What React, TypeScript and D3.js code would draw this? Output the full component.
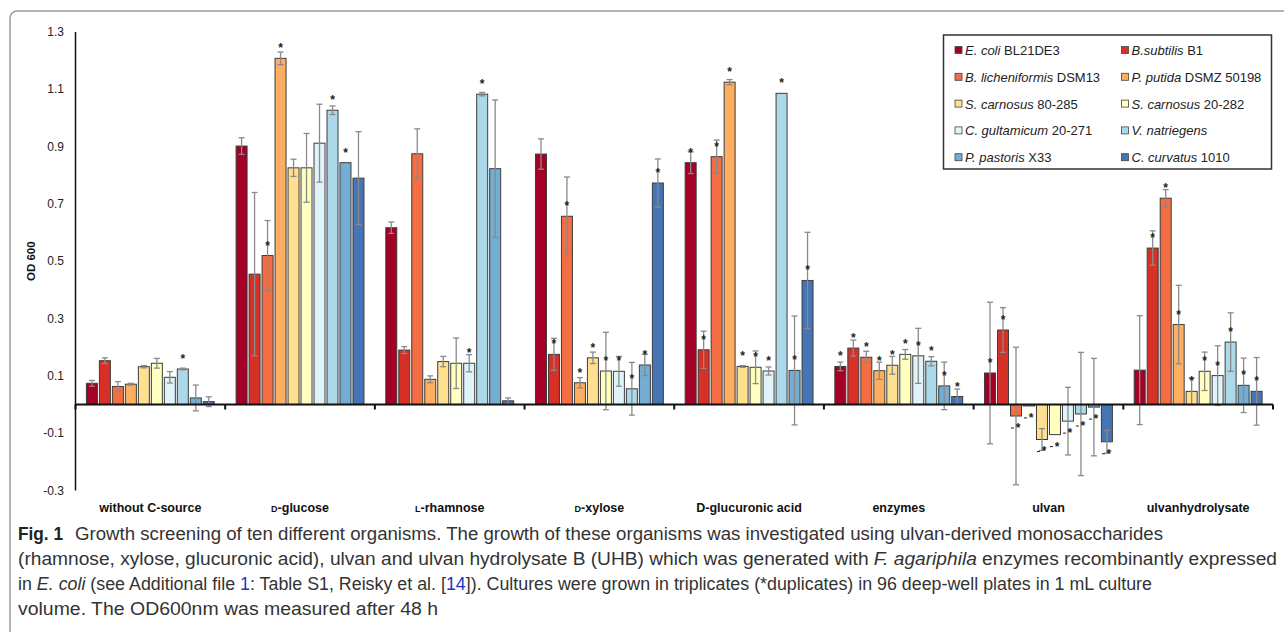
import React from "react";
import * as d3 from "d3";

const categories = ["without C-source", "D-glucose", "L-rhamnose", "D-xylose", "D-glucuronic acid", "enzymes", "ulvan", "ulvanhydrolysate"];
const smallCapCategory = [false, true, true, true, false, false, false, false];

const seriesItalic = ["E. coli", "B.subtilis", "B. licheniformis", "P. putida", "S. carnosus", "S. carnosus", "C. gultamicum", "V. natriegens", "P. pastoris", "C. curvatus"];
const seriesStrain = ["BL21DE3", "B1", "DSM13", "DSMZ 50198", "80-285", "20-282", "20-271", "", "X33", "1010"];
const seriesColors = ["#a50026", "#d73027", "#f46d43", "#fdae61", "#fee090", "#ffffbf", "#e0f3f8", "#abd9e9", "#74add1", "#4575b4"];

// mean OD600 per organism across the 8 carbon sources
const eColi = [0.074, 0.902, 0.617, 0.874, 0.844, 0.133, 0.11, 0.12];
const bSubtilis = [0.153, 0.455, 0.19, 0.175, 0.191, 0.197, 0.26, 0.546];
const bLicheniformis = [0.063, 0.52, 0.875, 0.657, 0.865, 0.165, -0.04, 0.72];
const pPutida = [0.071, 1.208, 0.088, 0.076, 1.125, 0.118, -0.005, 0.279];
const sCarnosus80 = [0.132, 0.826, 0.15, 0.163, 0.133, 0.137, -0.122, 0.046];
const sCarnosus20 = [0.144, 0.826, 0.144, 0.117, 0.13, 0.175, -0.105, 0.116];
const cGlutamicum = [0.095, 0.912, 0.144, 0.116, 0.117, 0.17, -0.058, 0.101];
const vNatriegens = [0.124, 1.027, 1.083, 0.055, 1.086, 0.151, -0.033, 0.218];
const pPastoris = [0.023, 0.844, 0.823, 0.138, 0.119, 0.065, -0.009, 0.067];
const cCurvatus = [0.01, 0.79, 0.013, 0.773, 0.433, 0.028, -0.13, 0.046];

// standard deviations
const eColiErr = [0.01, 0.029, 0.02, 0.053, 0.038, 0.015, 0.247, 0.19];
const bSubtilisErr = [0.01, 0.285, 0.012, 0.056, 0.065, 0.028, 0.078, 0.06];
const bLicheniformisErr = [0.017, 0.122, 0.087, 0.137, 0.058, 0.021, 0.24, 0.03];
const pPutidaErr = [0.003, 0.022, 0.012, 0.018, 0.009, 0.03, 0, 0.137];
const sCarnosus80Err = [0.004, 0.03, 0.018, 0.02, 0.003, 0.031, 0.038, 0.046];
const sCarnosus20Err = [0.017, 0.12, 0.088, 0.135, 0.057, 0.017, 0, 0.067];
const cGlutamicumErr = [0.02, 0.136, 0.03, 0.052, 0.014, 0.096, 0.118, 0.104];
const vNatriegensErr = [0.003, 0.015, 0.006, 0.092, 0, 0.016, 0.215, 0.102];
const pPastorisErr = [0.045, 0, 0.24, 0.037, 0.19, 0.083, 0.17, 0.095];
const cCurvatusErr = [0.017, 0.162, 0.01, 0.084, 0.168, 0.026, 0.04, 0.118];

// duplicates marker (*)
const eColiStar = [0, 0, 0, 0, 1, 1, 1, 0];
const bSubtilisStar = [0, 0, 0, 1, 1, 1, 1, 1];
const bLicheniformisStar = [0, 1, 0, 1, 1, 1, 1, 1];
const pPutidaStar = [0, 1, 0, 1, 1, 1, 1, 1];
const sCarnosus80Star = [0, 0, 0, 1, 1, 1, 1, 1];
const sCarnosus20Star = [0, 0, 0, 1, 1, 1, 1, 1];
const cGlutamicumStar = [0, 0, 1, 1, 1, 1, 1, 1];
const vNatriegensStar = [1, 1, 1, 1, 1, 1, 1, 1];
const pPastorisStar = [0, 1, 0, 1, 1, 1, 1, 1];
const cCurvatusStar = [0, 0, 0, 1, 1, 1, 1, 1];

const yTicks = [-0.3, -0.1, 0.1, 0.3, 0.5, 0.7, 0.9, 1.1, 1.3];

const means = [eColi, bSubtilis, bLicheniformis, pPutida, sCarnosus80, sCarnosus20, cGlutamicum, vNatriegens, pPastoris, cCurvatus];
const errors = [eColiErr, bSubtilisErr, bLicheniformisErr, pPutidaErr, sCarnosus80Err, sCarnosus20Err, cGlutamicumErr, vNatriegensErr, pPastorisErr, cCurvatusErr];
const stars = [eColiStar, bSubtilisStar, bLicheniformisStar, pPutidaStar, sCarnosus80Star, sCarnosus20Star, cGlutamicumStar, vNatriegensStar, pPastorisStar, cCurvatusStar];

const FONT = "'Liberation Sans', Arial, Helvetica, sans-serif";

export default function App() {
  const W = 1284, H = 632;
  const x0 = d3.scaleBand<string>().domain(categories).range([75.5, 1273]).paddingInner(0).paddingOuter(0);
  const x1 = d3.scaleBand<number>().domain(d3.range(10)).range([0, x0.bandwidth()]).paddingInner(0.154).paddingOuter(0.84);
  const y = d3.scaleLinear().domain([-0.3, 1.3]).range([490.5, 32]);
  const y0 = y(0);

  const bars: any[] = [];
  const errs: any[] = [];
  const marks: any[] = [];
  categories.forEach((c, ci) => {
    means.forEach((series, si) => {
      const v = series[ci];
      const bx = (x0(c) as number) + (x1(si) as number);
      const bw = x1.bandwidth();
      const cx = bx + bw / 2;
      const top = Math.min(y(v), y0);
      const h = Math.abs(y(v) - y0);
      bars.push(
        <rect key={`b${ci}-${si}`} x={bx} y={top} width={bw} height={Math.max(h, 1)} fill={seriesColors[si]} stroke="#3c3c3c" strokeWidth={1} />
      );
      const e = errors[si][ci];
      if (e > 0) {
        const ya = y(v + e), yb = y(v - e);
        errs.push(
          <g key={`e${ci}-${si}`} stroke="#8a8a8a" strokeWidth={1.3}>
            <line x1={cx} x2={cx} y1={ya} y2={yb} />
            <line x1={cx - 3} x2={cx + 3} y1={ya} y2={ya} />
            <line x1={cx - 3} x2={cx + 3} y1={yb} y2={yb} />
          </g>
        );
      }
      if (stars[si][ci]) {
        if (v >= 0) {
          const sy = y(v) - 13;
          marks.push(
            <text key={`s${ci}-${si}`} x={cx} y={sy + 7} textAnchor="middle" fontSize={12} fontWeight="bold" fontFamily={FONT} fill="#222">*</text>
          );
        } else {
          const sy = y(v) + 9;
          marks.push(
            <g key={`s${ci}-${si}`}>
              <line x1={cx - 5} x2={cx - 2} y1={sy + 3} y2={sy + 3} stroke="#222" strokeWidth={1} />
              <text x={cx + 2} y={sy + 7} textAnchor="middle" fontSize={12} fontWeight="bold" fontFamily={FONT} fill="#222">*</text>
            </g>
          );
        }
      }
    });
  });

  const boundaries = [...categories.map((c) => x0(c) as number), 1273];

  return (
    <svg width={W} height={H} style={{ position: "absolute", left: 0, top: 0, background: "#fff" }}>
      <path d="M10,650 V19 Q10,11 18,11 H1290" fill="none" stroke="#9a9a9a" strokeWidth={1.5} />

      {/* y tick labels */}
      {yTicks.map((t) => (
        <text key={t} x={64} y={y(t) + 4} textAnchor="end" fontSize={12} fontFamily={FONT} fill="#222">{t.toFixed(1)}</text>
      ))}
      <text transform={`translate(35,${y(0.5)}) rotate(-90)`} textAnchor="middle" fontSize={11.5} fontWeight="bold" fontFamily={FONT} fill="#111">OD 600</text>

      {bars}
      {errs}
      {marks}

      {/* axes */}
      <line x1={75.5} x2={75.5} y1={32} y2={490.5} stroke="#111" strokeWidth={1.5} />
      <line x1={75} x2={1273} y1={y0} y2={y0} stroke="#111" strokeWidth={2} />
      {boundaries.map((b, i) => (
        <line key={i} x1={b} x2={b} y1={y0} y2={y0 + 5} stroke="#111" strokeWidth={2} />
      ))}

      {/* category labels */}
      {categories.map((c, ci) => {
        const cx = (x0(c) as number) + x0.bandwidth() / 2;
        return (
          <text key={c} x={cx} y={511.5} textAnchor="middle" fontSize={12.5} fontWeight="bold" fontFamily={FONT} fill="#111">
            {smallCapCategory[ci] ? (
              <>
                <tspan fontSize={9}>{c[0]}</tspan>
                <tspan>{c.slice(1)}</tspan>
              </>
            ) : (
              c
            )}
          </text>
        );
      })}

      {/* legend */}
      <rect x={943.5} y={35} width={328} height={134} fill="#fff" stroke="#333" strokeWidth={1.5} />
      {seriesItalic.map((name, i) => {
        const col = i % 2, row = Math.floor(i / 2);
        const lx = col === 0 ? 955 : 1121.5;
        const ly = 50.5 + row * 26.8;
        return (
          <g key={i}>
            <rect x={lx} y={ly - 4} width={7} height={7} fill={seriesColors[i]} stroke="#444" strokeWidth={0.8} />
            <text x={lx + 10} y={ly + 4.5} fontSize={13} fontFamily={FONT} fill="#222">
              <tspan fontStyle="italic">{name}</tspan>
              {seriesStrain[i] ? <tspan>{" " + seriesStrain[i]}</tspan> : null}
            </text>
          </g>
        );
      })}

      {/* caption */}
      <text x={18} y={540} fontSize={18} fontWeight="bold" fontFamily={FONT} fill="#222" textLength={45} lengthAdjust="spacingAndGlyphs">Fig. 1</text>
      <text x={75} y={540} fontSize={17.5} fontFamily={FONT} fill="#333" textLength={1088} lengthAdjust="spacingAndGlyphs">
        Growth screening of ten different organisms. The growth of these organisms was investigated using ulvan-derived monosaccharides
      </text>
      <text x={18} y={565} fontSize={17.5} fontFamily={FONT} fill="#333" textLength={1259} lengthAdjust="spacingAndGlyphs">
        (rhamnose, xylose, glucuronic acid), ulvan and ulvan hydrolysate B (UHB) which was generated with <tspan fontStyle="italic">F. agariphila</tspan> enzymes recombinantly expressed
      </text>
      <text x={18} y={590} fontSize={17.5} fontFamily={FONT} fill="#333" textLength={1134} lengthAdjust="spacingAndGlyphs">
        in <tspan fontStyle="italic">E. coli</tspan> (see Additional file <tspan fill="#1a35c8">1</tspan>: Table S1, Reisky et al. [<tspan fill="#1a35c8">14</tspan>]). Cultures were grown in triplicates (*duplicates) in 96 deep-well plates in 1 mL culture
      </text>
      <text x={18} y={615} fontSize={17.5} fontFamily={FONT} fill="#333" textLength={420} lengthAdjust="spacingAndGlyphs">
        volume. The OD600nm was measured after 48 h
      </text>
    </svg>
  );
}
